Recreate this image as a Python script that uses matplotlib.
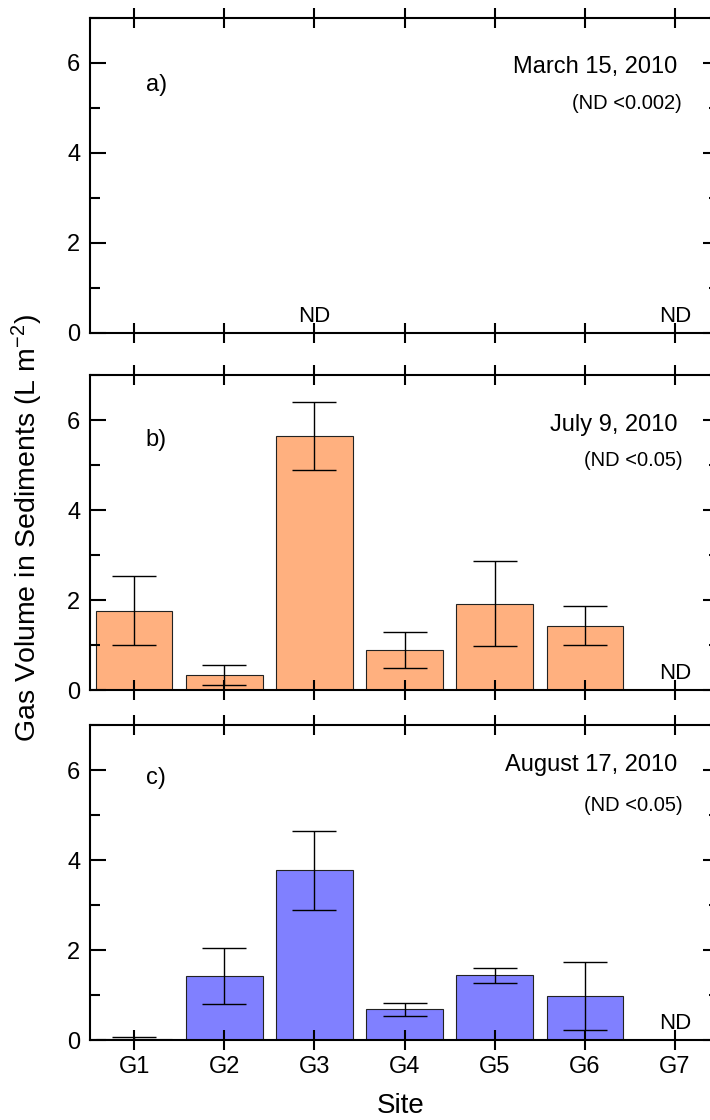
import numpy as np
import matplotlib
matplotlib.use('Agg')
import matplotlib.pyplot as plt
from matplotlib.ticker import MultipleLocator

sites = ['G1', 'G2', 'G3', 'G4', 'G5', 'G6', 'G7']

# gas volume in sediments (L m-2), mean and error per site
march_vol = [0, 0, 0, 0, 0, 0, 0]
march_nd = ['G3', 'G7']

july_vol = [1.76, 0.33, 5.64, 0.88, 1.92, 1.43, 0]
july_err = [0.77, 0.22, 0.75, 0.40, 0.94, 0.44, 0]
july_nd = ['G7']

aug_vol = [0.03, 1.43, 3.77, 0.68, 1.44, 0.98, 0]
aug_err = [0.04, 0.62, 0.88, 0.14, 0.17, 0.75, 0]
aug_nd = ['G7']

plt.rcParams['font.family'] = 'Liberation Sans'
plt.rcParams['mathtext.fontset'] = 'custom'
plt.rcParams['mathtext.rm'] = 'Liberation Sans'
plt.rcParams['mathtext.it'] = 'Liberation Sans:italic'

fig = plt.figure(figsize=(7.1, 11.2), dpi=100)

# one row per sampling date: (bottom, values, errors, colour, tag, date, limit, ND sites, text spots)
panels = [
    (0.7027, march_vol, None, '#ffb07f', 'a)', 'March 15, 2010', '(ND <0.002)', march_nd,
     (5.50, 5.91, 5.09)),
    (0.3839, july_vol, july_err, '#ffb07f', 'b)', 'July 9, 2010', '(ND <0.05)', july_nd,
     (5.56, 5.89, 5.11)),
    (0.0714, aug_vol, aug_err, '#8080ff', 'c)', 'August 17, 2010', '(ND <0.05)', aug_nd,
     (5.82, 6.11, 5.22)),
]

x = np.arange(len(sites))

for i, (bottom, vals, errs, color, tag, date, limit, nd, spots) in enumerate(panels):
    ax = fig.add_axes([0.1268, bottom, 0.886, 0.28125])
    ax.bar(x, vals, width=0.85, color=color, edgecolor='#222222', linewidth=0.8)
    if errs is not None:
        ax.errorbar(x, vals, yerr=errs, fmt='none', ecolor='black',
                    elinewidth=1.0, capsize=15.5, capthick=1.0)

    for site in nd:
        ax.text(sites.index(site), 0.25, 'ND', ha='center', va='baseline', fontsize=16)

    ax.text(0.13, spots[0], tag, ha='left', va='center', fontsize=17)
    ax.text(6.03, spots[1], date, ha='right', va='center', fontsize=17)
    ax.text(6.08, spots[2], limit, ha='right', va='center', fontsize=14.5)

    ax.set_xlim(-0.49, 6.49)
    ax.set_ylim(0, 7)
    ax.set_xticks(x)
    ax.set_xticklabels(sites)
    ax.yaxis.set_major_locator(MultipleLocator(2))
    ax.yaxis.set_minor_locator(MultipleLocator(1))

    ax.tick_params(axis='x', which='major', direction='inout', length=14.4, width=1.5,
                   top=True, bottom=True, labelbottom=(i == 2), labelsize=17, pad=4)
    ax.tick_params(axis='y', which='major', direction='in', length=11.5, width=1.5,
                   left=True, right=True, labelsize=17, pad=7)
    ax.tick_params(axis='y', which='minor', direction='in', length=7, width=1.5,
                   left=True, right=True)
    for sp in ax.spines.values():
        sp.set_linewidth(1.5)

fig.text(0.039, 1 - 528 / 1120, 'Gas Volume in Sediments (L m$^{-2}$)',
         rotation=90, ha='center', va='center', fontsize=20.5)
fig.text(401 / 710, 1 - 1106 / 1120, 'Site', ha='center', va='center', fontsize=20)

fig.savefig('out.png', dpi=100)
